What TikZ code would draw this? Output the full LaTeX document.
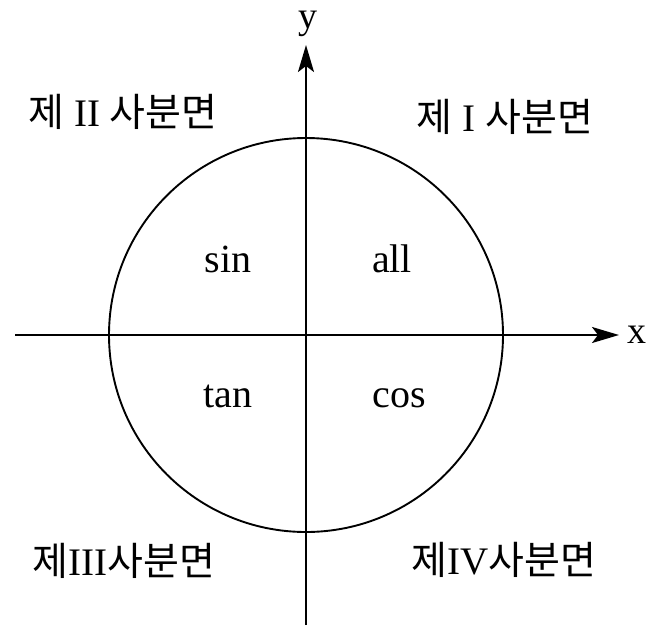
\documentclass[tikz,border=0pt]{standalone}
\usepackage{fontspec}
\setmainfont{Liberation Serif}
\newfontfamily\kr{Noto Sans CJK KR}
\usetikzlibrary{arrows.meta}
\tikzset{
  axis/.style={line width=2pt, -{Stealth[length=27pt,width=16pt,inset=6pt]}},
  circ/.style={line width=1.9pt},
  quad/.style={font=\fontsize{39}{42}\selectfont, inner sep=0pt},
  fn/.style={font=\fontsize{40}{44}\selectfont, inner sep=0pt, anchor=base},
  lbl/.style={font=\fontsize{38}{42}\selectfont, inner sep=0pt, anchor=base}
}
\begin{document}
\begin{tikzpicture}[x=1pt,y=-1pt]
\useasboundingbox (0,0) rectangle (646,625);
\coordinate (xs) at (15,335);
\coordinate (xe) at (619,335);
\coordinate (ys) at (306,625);
\coordinate (ye) at (306,45);
\coordinate (o) at (306,335);
\draw[circ] (o) circle[radius=197];
\draw[axis] (xs) -- (xe);
\draw[axis] (ys) -- (ye);
\node[lbl] (xl) at (637,343) {x};
\node[lbl] (yl) at (308,28) {y};
\node[quad] (q2) at (123,112) {{\kr 제} II {\kr 사분면}};
\node[quad] (q1) at (505,117) {{\kr 제} I {\kr 사분면}};
\node[quad] (q3) at (124,561) {{\kr 제}III{\kr 사분면}};
\node[quad] (q4) at (504,560) {{\kr 제}IV{\kr 사분면}};
\node[fn] (s) at (228,272) {sin};
\node[fn] (a) at (392,272) {all};
\node[fn] (t) at (228,407) {tan};
\node[fn] (c) at (399,407) {cos};
\end{tikzpicture}
\end{document}
